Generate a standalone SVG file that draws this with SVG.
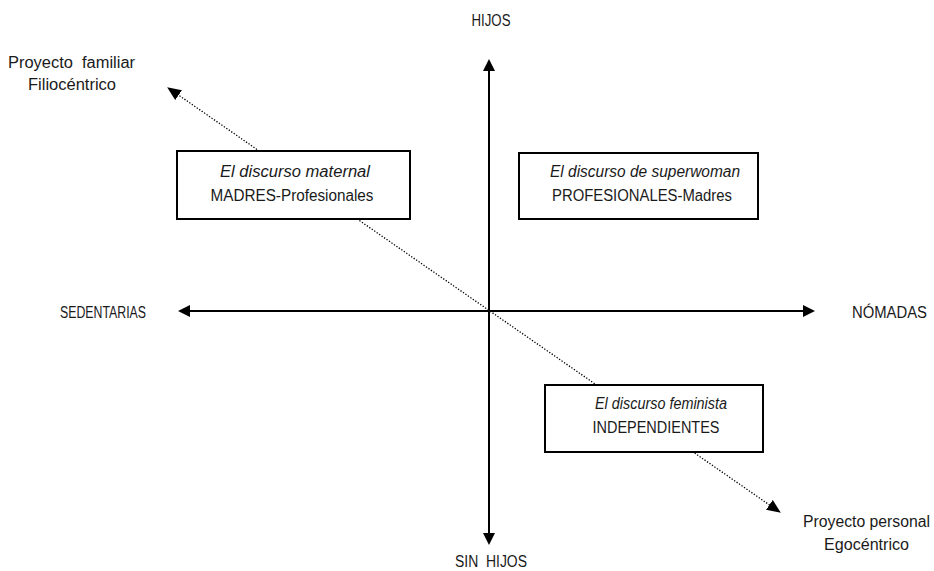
<svg xmlns="http://www.w3.org/2000/svg" width="934" height="571" viewBox="0 0 934 571">
<style>
text{font-family:"Liberation Sans",Arial,sans-serif;font-size:16px;fill:#1a1a1a}
.it{font-style:italic}
.axis{stroke:#000;stroke-width:2;fill:none}
.dot{stroke:#000;stroke-width:1.3;stroke-dasharray:1.3 1.7;fill:none}
.box{fill:#fff;stroke:#000;stroke-width:2}
</style>
<defs>
<marker id="ah" markerUnits="userSpaceOnUse" viewBox="0 0 12 12" markerWidth="12" markerHeight="12" refX="2" refY="6" orient="auto-start-reverse">
<path d="M0,0 L12,6 L0,12 z" fill="#000"/>
</marker>
<marker id="ahd" markerUnits="userSpaceOnUse" viewBox="0 0 14 12" markerWidth="14" markerHeight="12" refX="2" refY="6" orient="auto-start-reverse">
<path d="M0,0 L14,6 L0,12 z" fill="#000"/>
</marker>
</defs>
<g id="connectors">
<line class="axis" x1="489" y1="69" x2="489" y2="535" marker-start="url(#ah)" marker-end="url(#ah)"/>
<line class="axis" x1="188" y1="311" x2="805" y2="311" marker-start="url(#ah)" marker-end="url(#ah)"/>
<line class="dot" x1="177" y1="94" x2="771" y2="506" marker-start="url(#ahd)" marker-end="url(#ahd)"/>
</g>
<g id="labels">
<text x="491" y="26" text-anchor="middle" textLength="39" lengthAdjust="spacingAndGlyphs">HIJOS</text>
<text x="491" y="567" text-anchor="middle" textLength="72" lengthAdjust="spacingAndGlyphs">SIN&#160; HIJOS</text>
<text x="60" y="318" textLength="86" lengthAdjust="spacingAndGlyphs">SEDENTARIAS</text>
<text x="852" y="318" textLength="75" lengthAdjust="spacingAndGlyphs">NÓMADAS</text>
<text x="8" y="68" textLength="127" lengthAdjust="spacingAndGlyphs">Proyecto&#160; familiar</text>
<text x="28" y="90" textLength="88" lengthAdjust="spacingAndGlyphs">Filiocéntrico</text>
<text x="803" y="527" textLength="127" lengthAdjust="spacingAndGlyphs">Proyecto personal</text>
<text x="824" y="550" textLength="85" lengthAdjust="spacingAndGlyphs">Egocéntrico</text>
</g>
<g id="node-maternal">
<rect class="box" x="177" y="151" width="233" height="68"/>
<text class="it" x="295" y="177" text-anchor="middle" textLength="150" lengthAdjust="spacingAndGlyphs">El discurso maternal</text>
<text x="292" y="201" text-anchor="middle" textLength="163" lengthAdjust="spacingAndGlyphs">MADRES-Profesionales</text>
</g>
<g id="node-superwoman">
<rect class="box" x="519" y="153" width="239" height="66"/>
<text class="it" x="645" y="177" text-anchor="middle" textLength="190" lengthAdjust="spacingAndGlyphs">El discurso de superwoman</text>
<text x="642" y="201" text-anchor="middle" textLength="180" lengthAdjust="spacingAndGlyphs">PROFESIONALES-Madres</text>
</g>
<g id="node-feminista">
<rect class="box" x="545" y="385" width="218" height="67"/>
<text class="it" x="661" y="409" text-anchor="middle" textLength="132" lengthAdjust="spacingAndGlyphs">El discurso feminista</text>
<text x="656" y="433" text-anchor="middle" textLength="127" lengthAdjust="spacingAndGlyphs">INDEPENDIENTES</text>
</g>
</svg>
